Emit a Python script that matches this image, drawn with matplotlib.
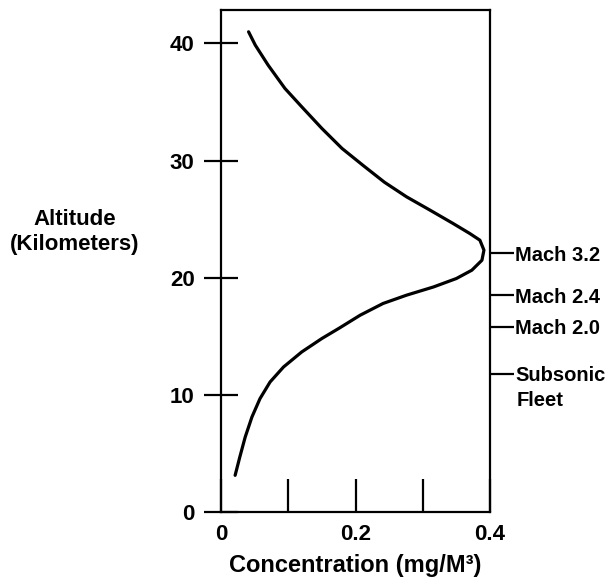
import matplotlib
matplotlib.use("Agg")
import matplotlib.pyplot as plt

# curva de concentracion, de abajo a arriba
conc = [0.021, 0.028, 0.036, 0.046, 0.058, 0.073, 0.093, 0.120, 0.150, 0.176,
        0.207, 0.241, 0.276, 0.316, 0.350, 0.373, 0.388, 0.391, 0.385,
        0.370, 0.345, 0.311, 0.276, 0.243, 0.212, 0.180, 0.150, 0.120, 0.095,
        0.070, 0.051, 0.041]
alt = [3.13, 4.70, 6.40, 8.11, 9.68, 11.10, 12.38, 13.66, 14.81, 15.70,
       16.80, 17.80, 18.51, 19.21, 19.93, 20.64, 21.49, 22.35, 23.20,
       23.77, 24.63, 25.76, 26.90, 28.15, 29.55, 31.03, 32.74, 34.59, 36.16,
       38.15, 39.85, 40.99]

# altitudes de crucero (eje derecho)
crucero_alt = [22.1, 18.5, 15.8, 11.8]
crucero_lbl = ["Mach 3.2", "Mach 2.4", "Mach 2.0", "Subsonic"]

yticks = [0, 10, 20, 30, 40]
xticks = [0, 0.1, 0.2, 0.3, 0.4]
xlabels = ["0", "", "0.2", "", "0.4"]

plt.rcParams["font.family"] = ["Liberation Sans", "DejaVu Sans"]
plt.rcParams["font.weight"] = "bold"
FS = 16

fig = plt.figure(figsize=(6.15, 5.86), dpi=100)
ax = fig.add_axes([221 / 615, 1 - 512 / 586, 269 / 615, 502 / 586])
ax.plot(conc, alt, "k-", lw=2.3, solid_capstyle="round", solid_joinstyle="round")
ax.set_xlim(0, 0.4)
ax.set_ylim(0, 42.85)
for s in ax.spines.values():
    s.set_linewidth(1.6)

ax.set_yticks(yticks)
ax.set_yticklabels([str(v) for v in yticks], fontsize=FS, fontweight="bold")
ax.tick_params(axis="y", direction="inout", length=24, width=1.6, pad=7)

ax.set_xticks(xticks)
ax.set_xticklabels(xlabels, fontsize=FS, fontweight="bold")
ax.tick_params(axis="x", direction="in", length=24, width=1.6, pad=9)
ax.yaxis.get_major_ticks()[0].tick1line.set_visible(False)

ax.set_xlabel("Concentration (mg/M\u00b3)", fontsize=FS + 1, fontweight="bold",
              labelpad=6)
fig.text(75 / 615, 1 - 232 / 586, "Altitude\n(Kilometers)", ha="center",
         va="center", fontsize=FS, fontweight="bold", linespacing=1.2)

ax2 = ax.twinx()
ax2.set_ylim(ax.get_ylim())
ax2.set_yticks(crucero_alt)
ax2.set_yticklabels(crucero_lbl, fontsize=FS - 1.5, fontweight="bold")
ax2.tick_params(axis="y", direction="out", length=17, width=1.6, pad=1)
for s in ax2.spines.values():
    s.set_visible(False)
ax2.text(1.1, crucero_alt[-1] - 2.3, "Fleet", transform=ax2.get_yaxis_transform(),
         ha="left", va="center", fontsize=FS - 1.5, fontweight="bold", clip_on=False)

fig.savefig("out.png", dpi=100)
